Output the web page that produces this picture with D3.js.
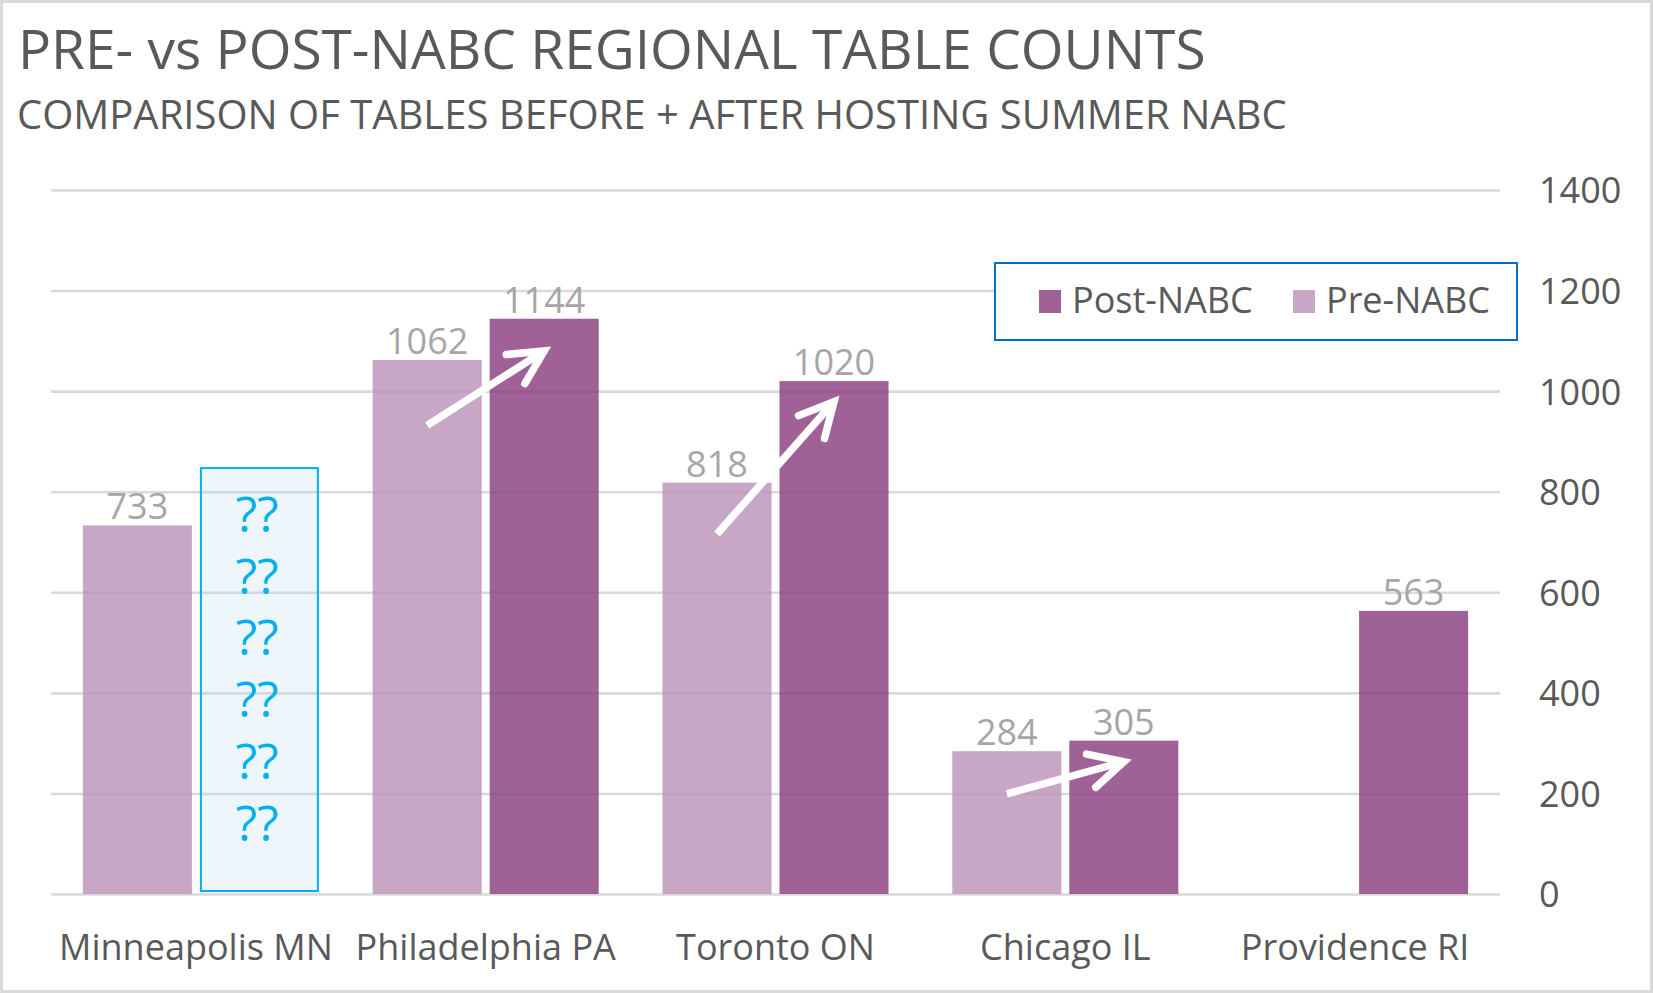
<!DOCTYPE html>
<html>
<head>
<meta charset="utf-8">
<script src="https://cdn.jsdelivr.net/npm/d3@7"></script>
<style>
  html, body { margin: 0; padding: 0; background: #fff; }
  svg text { font-family: "Open Sans", "Noto Sans", sans-serif; }
</style>
</head>
<body>
<div id="chart"></div>
<script>
var cities = ["Minneapolis MN", "Philadelphia PA", "Toronto ON", "Chicago IL", "Providence RI"];
var preNabc = [733, 1062, 818, 284, null];
var postNabc = [null, 1144, 1020, 305, 563];
var yTicks = [0, 200, 400, 600, 800, 1000, 1200, 1400];
var legendNames = ["Post-NABC", "Pre-NABC"];

// white arrows (values where the arrow starts on the pre bar and ends on the post bar)
var arrowFrom = [null, 932, 716, 199, null];
var arrowTo = [null, 1080, 979, 263, null];

// the unknown Minneapolis post-NABC box
var unknownTop = 847;
var unknownRows = ["??", "??", "??", "??", "??", "??"];

var width = 1653;
var height = 993;
var plotLeft = 51, plotRight = 1500, plotTop = 190, plotBottom = 894;

var postColor = "rgb(136,59,124)";
var preColor = "rgb(186,144,184)";
var barOpacity = 0.8;

var svg = d3.select("#chart")
  .append("svg")
  .attr("width", width)
  .attr("height", height);

// chart border
svg.append("rect")
  .attr("x", 1.5).attr("y", 1.5)
  .attr("width", width - 3).attr("height", height - 3)
  .attr("fill", "#fff")
  .attr("stroke", "#D9D9D9")
  .attr("stroke-width", 3);

var x0 = d3.scaleBand()
  .domain(cities)
  .range([plotLeft, plotRight]);

var pad = x0.bandwidth() * 0.11;
var x1 = d3.scaleBand()
  .domain(["pre", "post"])
  .range([pad, x0.bandwidth() - pad])
  .paddingInner(0.068);

var y = d3.scaleLinear()
  .domain([0, 1400])
  .range([plotBottom, plotTop]);

// gridlines
var grid = svg.append("g")
  .attr("transform", "translate(" + plotLeft + ",0)")
  .call(d3.axisLeft(y).tickValues(yTicks).tickSize(-(plotRight - plotLeft)).tickFormat(""));
grid.select(".domain").remove();
grid.selectAll("line").attr("stroke", "#D9D9D9").attr("stroke-width", 2.6);

// y labels on the right
var yaxis = svg.append("g")
  .attr("transform", "translate(1539,0)")
  .call(d3.axisRight(y).tickValues(yTicks).tickSize(0).tickPadding(0).tickFormat(d3.format("d")));
yaxis.select(".domain").remove();
yaxis.selectAll("text")
  .attr("fill", "#595959")
  .style("font-size", "36px")
  .style("font-family", "'Open Sans', sans-serif")
  .attr("dy", "0.36em");

// category labels
var xaxis = svg.append("g")
  .attr("transform", "translate(0," + plotBottom + ")")
  .call(d3.axisBottom(x0).tickSize(0));
xaxis.select(".domain").remove();
xaxis.selectAll("text")
  .attr("fill", "#595959")
  .style("font-size", "36px")
  .style("font-family", "'Open Sans', sans-serif")
  .attr("y", 66)
  .attr("dy", null);

var rows = cities.map(function (c, i) {
  return { city: c, pre: preNabc[i], post: postNabc[i], from: arrowFrom[i], to: arrowTo[i] };
});

var bars = [];
rows.forEach(function (d) {
  if (d.pre != null) bars.push({ city: d.city, key: "pre", value: d.pre });
  if (d.post != null) bars.push({ city: d.city, key: "post", value: d.post });
});

svg.append("g")
  .selectAll("rect")
  .data(bars)
  .enter()
  .append("rect")
  .attr("x", function (d) { return x0(d.city) + x1(d.key); })
  .attr("y", function (d) { return y(d.value); })
  .attr("width", x1.bandwidth())
  .attr("height", function (d) { return y(0) - y(d.value); })
  .attr("fill", function (d) { return d.key == "post" ? postColor : preColor; })
  .attr("fill-opacity", barOpacity);

// data labels
svg.append("g")
  .selectAll("text")
  .data(bars)
  .enter()
  .append("text")
  .attr("x", function (d) { return x0(d.city) + x1(d.key) + x1.bandwidth() / 2; })
  .attr("y", function (d) { return y(d.value) - 6; })
  .attr("text-anchor", "middle")
  .attr("fill", "#A6A6A6")
  .style("font-size", "36px")
  .text(function (d) { return d.value; });

// unknown box for Minneapolis
var bx = x0(cities[0]) + x1("post") + 1;
var bTop = y(unknownTop);
svg.append("rect")
  .attr("x", bx)
  .attr("y", bTop)
  .attr("width", x1.step())
  .attr("height", y(0) - 3 - bTop)
  .attr("fill", "#BDD7EE")
  .attr("fill-opacity", 0.25)
  .attr("stroke", "#00B0F0")
  .attr("stroke-width", 2);

svg.append("g")
  .selectAll("text")
  .data(unknownRows)
  .enter()
  .append("text")
  .attr("x", bx + x1.step() / 2 - 2)
  .attr("y", function (d, i) { return bTop + 64 + i * 61.7; })
  .attr("text-anchor", "middle")
  .attr("fill", "#00B0F0")
  .style("font-size", "50px")
  .text(function (d) { return d; });

// arrows
var arrowRows = rows.filter(function (d) { return d.from != null; });
var ag = svg.append("g")
  .attr("stroke", "#fff")
  .attr("stroke-width", 7.5)
  .attr("fill", "none");

arrowRows.forEach(function (d) {
  var xa = x0(d.city) + x1("pre") + x1.bandwidth() / 2;
  var xb = x0(d.city) + x1("post") + x1.bandwidth() / 2;
  var ya = y(d.from), yb = y(d.to);
  var ang = Math.atan2(ya - yb, xa - xb);
  var len = 38, spread = 27 * Math.PI / 180;
  ag.append("line")
    .attr("x1", xa).attr("y1", ya)
    .attr("x2", xb).attr("y2", yb);
  ag.append("path")
    .attr("stroke-linecap", "round")
    .attr("stroke-linejoin", "miter")
    .attr("d", "M" + (xb + len * Math.cos(ang + spread)) + "," + (yb + len * Math.sin(ang + spread)) +
      "L" + xb + "," + yb +
      "L" + (xb + len * Math.cos(ang - spread)) + "," + (yb + len * Math.sin(ang - spread)));
});

// legend
var legend = svg.append("g");
legend.append("rect")
  .attr("x", 995).attr("y", 263)
  .attr("width", 522).attr("height", 77)
  .attr("fill", "#fff")
  .attr("stroke", "#0070C0")
  .attr("stroke-width", 2);

var legendX = [1039, 1293];
legendNames.forEach(function (n, i) {
  legend.append("rect")
    .attr("x", legendX[i]).attr("y", 290)
    .attr("width", 22).attr("height", 23)
    .attr("fill", i == 0 ? postColor : preColor)
    .attr("fill-opacity", barOpacity);
  legend.append("text")
    .attr("x", legendX[i] + 33).attr("y", 313)
    .attr("fill", "#595959")
    .style("font-size", "36px")
    .text(n);
});

// titles
svg.append("text")
  .attr("x", 18).attr("y", 69)
  .attr("fill", "#595959")
  .style("font-size", "55px")
  .text("PRE- vs POST-NABC REGIONAL TABLE COUNTS");

svg.append("text")
  .attr("x", 17).attr("y", 129)
  .attr("fill", "#595959")
  .style("font-size", "40px")
  .text("COMPARISON OF TABLES BEFORE + AFTER HOSTING SUMMER NABC");
</script>
</body>
</html>
